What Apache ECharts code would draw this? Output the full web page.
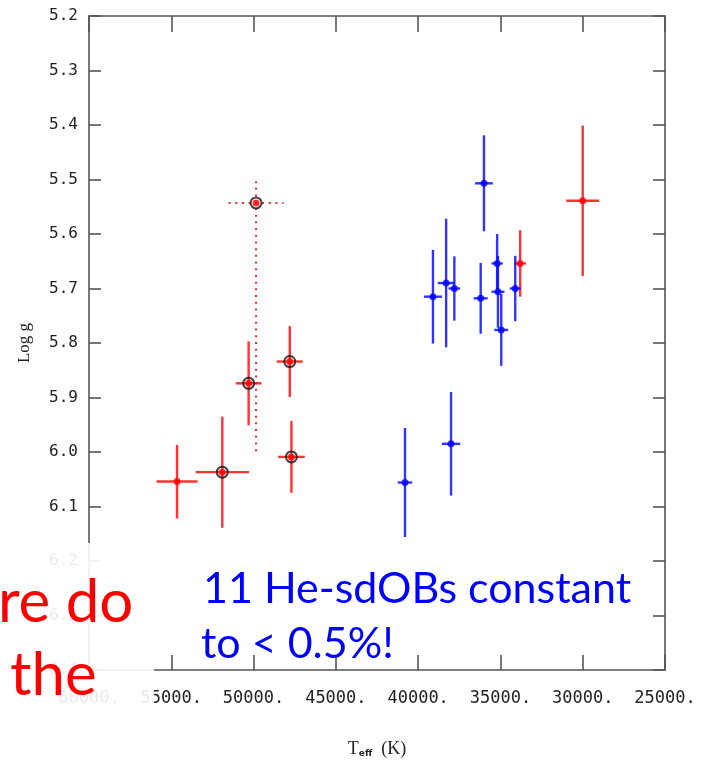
<!DOCTYPE html>
<html><head><meta charset="utf-8">
<script src="https://cdn.jsdelivr.net/npm/echarts@6/dist/echarts.min.js"></script>
<style>html,body{margin:0;padding:0;background:#fff}#c{width:705px;height:763px}</style>
</head><body><div id="c"></div>
<script>
// Temperature axis (reversed) and log g axis (reversed)
const xTickLabels = ['60000.', '55000.', '50000.', '45000.', '40000.', '35000.', '30000.', '25000.'];
const yTickLabels = ['5.2','5.3','5.4','5.5','5.6','5.7','5.8','5.9','6.0','6.1','6.2','6.3','6.4'];

// Red stars
const redTeff      = [54650, 51900, 49850, 50300, 47800, 47700, 30000, 33800];
const redTeffErr   = [1250, 1620, 1670, 780, 790, 810, 1000, 355];
const redLogg      = [6.054, 6.037, 5.543, 5.874, 5.834, 6.009, 5.539, 5.654];
const redLoggErrUp = [0.067, 0.102, 0.040, 0.077, 0.065, 0.066, 0.138, 0.061];
const redLoggErrDn = [0.068, 0.102, 0.456, 0.077, 0.065, 0.066, 0.138, 0.061];
const redCircled   = [0, 1, 1, 1, 1, 1, 0, 0];
const redDotted    = [0, 0, 1, 0, 0, 0, 0, 0];

// Blue stars (11 He-sdOBs)
const blueTeff    = [36000, 39100, 38300, 37800, 36200, 35200, 35150, 34950, 34100, 40800, 38000];
const blueTeffErr = [540, 550, 510, 355, 425, 345, 395, 425, 335, 440, 560];
const blueLogg    = [5.507, 5.715, 5.690, 5.700, 5.718, 5.654, 5.706, 5.776, 5.700, 6.056, 5.985];
const blueLoggErr = [0.088, 0.086, 0.118, 0.059, 0.065, 0.054, 0.066, 0.066, 0.060, 0.100, 0.095];

const RED = '#ff0000', BLUE = '#0000ff';

function errData(t, te, g, gu, gd, dotted) {
  return t.map((v, i) => [v, g[i], v + te[i], v - te[i], g[i] - gu[i], g[i] + gd[i], dotted ? dotted[i] : 0]);
}
function errSeries(data, color) {
  return {
    type: 'custom', data: data, z: 3, silent: true, clip: false,
    encode: { x: 0, y: 1 },
    renderItem: function (params, api) {
      const x = api.value(0), y = api.value(1);
      const l = api.coord([api.value(2), y]), r = api.coord([api.value(3), y]);
      const t = api.coord([x, api.value(4)]), b = api.coord([x, api.value(5)]);
      const dotted = api.value(6) === 1;
      const st = { stroke: color, lineWidth: dotted ? 2 : 2.4, opacity: dotted ? 0.85 : 0.8, lineDash: dotted ? [2, 4.7] : null };
      return { type: 'group', children: [
        { type: 'line', shape: { x1: l[0], y1: l[1], x2: r[0], y2: r[1] }, style: st },
        { type: 'line', shape: { x1: t[0], y1: t[1], x2: b[0], y2: b[1] }, style: st }
      ]};
    }
  };
}

const redPts = redTeff.map((v, i) => [v, redLogg[i]]);
const ringPts = redTeff.map((v, i) => [v, redLogg[i]]).filter((p, i) => redCircled[i]);
const bluePts = blueTeff.map((v, i) => [v, blueLogg[i]]);

const axisLine = { lineStyle: { color: '#555', width: 1.6 } };
const tickStyle = { color: '#555', width: 1.6 };

const chart = echarts.init(document.getElementById('c'), null, { renderer: 'canvas' });
chart.setOption({
  animation: false,
  backgroundColor: '#ffffff',
  grid: { left: 89, top: 16, right: 40, bottom: 93, containLabel: false },
  xAxis: [
    { type: 'value', position: 'bottom', inverse: true, min: 25000, max: 60000, interval: 5000,
      axisLine: axisLine, axisTick: { inside: true, length: 15, lineStyle: tickStyle },
      splitLine: { show: false },
      axisLabel: { margin: 20, color: '#222', fontFamily: 'DejaVu Sans Mono', fontSize: 17,
        formatter: function (v) { return xTickLabels[Math.round((60000 - v) / 5000)]; } },
      name: '{t|T}{s|eff}{t|  (K)}', nameLocation: 'middle', nameGap: 70,
      nameTextStyle: { rich: {
        t: { fontFamily: 'Liberation Serif', fontSize: 18, color: '#222' },
        s: { fontFamily: 'DejaVu Sans', fontWeight: 'bold', fontSize: 9, color: '#222', padding: [9, 0, 0, 0] }
      } } },
    { type: 'value', position: 'top', inverse: true, min: 25000, max: 60000, interval: 5000,
      axisLine: axisLine, axisTick: { inside: true, length: 16, lineStyle: tickStyle },
      axisLabel: { show: false }, splitLine: { show: false } }
  ],
  yAxis: [
    { type: 'value', position: 'left', inverse: true, min: 5.2, max: 6.4, interval: 0.1,
      axisLine: axisLine, axisTick: { inside: true, length: 12, lineStyle: tickStyle },
      splitLine: { show: false },
      axisLabel: { margin: 11, color: '#222', fontFamily: 'DejaVu Sans Mono', fontSize: 16,
        formatter: function (v) { return yTickLabels[Math.round((v - 5.2) * 10)]; } },
      name: 'Log g', nameLocation: 'middle', nameGap: 56, nameRotate: 90,
      nameTextStyle: { fontFamily: 'Liberation Serif', fontSize: 17, color: '#222' } },
    { type: 'value', position: 'right', inverse: true, min: 5.2, max: 6.4, interval: 0.1,
      axisLine: axisLine, axisTick: { inside: true, length: 12, lineStyle: tickStyle },
      axisLabel: { show: false }, splitLine: { show: false } }
  ],
  series: [
    errSeries(errData(redTeff, redTeffErr, redLogg, redLoggErrUp, redLoggErrDn, redDotted), RED),
    errSeries(errData(blueTeff, blueTeffErr, blueLogg, blueLoggErr, blueLoggErr, null), BLUE),
    { type: 'scatter', data: ringPts, symbol: 'circle', symbolSize: 11, z: 4, silent: true,
      itemStyle: { color: 'rgba(0,0,0,0)', borderColor: '#111', borderWidth: 2 } },
    { type: 'scatter', data: redPts, symbol: 'circle', symbolSize: 7, z: 5, silent: true,
      itemStyle: { color: RED } },
    { type: 'scatter', data: bluePts, symbol: 'circle', symbolSize: 7, z: 5, silent: true,
      itemStyle: { color: BLUE } }
  ],
  graphic: [
    { type: 'rect', z: 100, shape: { x: 0, y: 543, width: 154, height: 220 },
      style: { fill: 'rgba(255,255,255,0.9)' } },
    { type: 'text', z: 101, x: -2, y: 603,
      style: { text: 're do', font: '60px Lato', fill: RED, textVerticalAlign: 'middle' } },
    { type: 'text', z: 101, x: 10, y: 676,
      style: { text: 'the', font: '60px Lato', fill: RED, textVerticalAlign: 'middle' } },
    { type: 'text', z: 101, x: 203, y: 589,
      style: { text: '11 He-sdOBs constant', font: '43px Lato', fill: BLUE, textVerticalAlign: 'middle' } },
    { type: 'text', z: 101, x: 201, y: 644,
      style: { text: 'to < 0.5%!', font: '43px Lato', fill: BLUE, textVerticalAlign: 'middle' } }
  ]
});
</script>
</body></html>
